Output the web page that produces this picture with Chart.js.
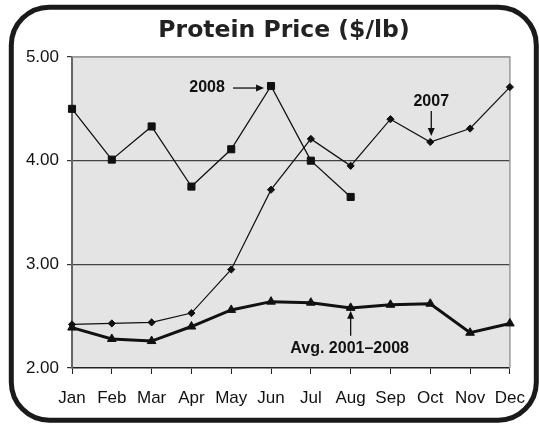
<!DOCTYPE html>
<html>
<head>
<meta charset="utf-8">
<script src="https://cdn.jsdelivr.net/npm/chart.js@4"></script>
<style>
  html, body { margin: 0; padding: 0; background: #fff; }
  #wrap { width: 539px; height: 425px; }
</style>
</head>
<body>
<div id="wrap"><canvas id="proteinChart" width="539" height="425"></canvas></div>
<script>
const months = ["Jan", "Feb", "Mar", "Apr", "May", "Jun", "Jul", "Aug", "Sep", "Oct", "Nov", "Dec"];
const price2008 = [4.50, 4.01, 4.33, 3.75, 4.11, 4.72, 4.00, 3.65, null, null, null, null];
const price2007 = [2.42, 2.43, 2.44, 2.53, 2.95, 3.72, 4.21, 3.95, 4.40, 4.18, 4.31, 4.71];
const avg2001to2008 = [2.39, 2.28, 2.26, 2.40, 2.56, 2.64, 2.63, 2.58, 2.61, 2.62, 2.34, 2.43];
const yTicks = [2, 3, 4, 5];
const chartTitle = "Protein Price ($/lb)";

// callouts: which point they point at, and which way the arrow comes from
const callouts = [
  { text: "2008", dataset: 0, index: 5, dir: "left" },
  { text: "2007", dataset: 1, index: 9, dir: "up" },
  { text: "Avg. 2001\u20132008", dataset: 2, index: 7, dir: "down" },
];

const ink = "#111";

const drawArrow = (ctx, x1, y1, x2, y2) => {
  const ang = Math.atan2(y2 - y1, x2 - x1);
  ctx.beginPath();
  ctx.moveTo(x1, y1);
  ctx.lineTo(x2 - Math.cos(ang) * 5, y2 - Math.sin(ang) * 5);
  ctx.stroke();
  ctx.beginPath();
  ctx.moveTo(x2, y2);
  ctx.lineTo(x2 - Math.cos(ang) * 8 - Math.sin(ang) * 3.5, y2 - Math.sin(ang) * 8 + Math.cos(ang) * 3.5);
  ctx.lineTo(x2 - Math.cos(ang) * 8 + Math.sin(ang) * 3.5, y2 - Math.sin(ang) * 8 - Math.cos(ang) * 3.5);
  ctx.closePath();
  ctx.fill();
};

const frame = {
  id: "frame",
  beforeDraw(chart) {
    // white page, then grey plot background (grid draws over it)
    const { ctx, chartArea: a } = chart;
    ctx.save();
    ctx.fillStyle = "#fff";
    ctx.fillRect(0, 0, chart.width, chart.height);
    ctx.fillStyle = "#e4e4e4";
    ctx.fillRect(a.left, a.top, a.right - a.left, a.bottom - a.top);
    ctx.restore();
  },
  beforeDatasetsDraw(chart) {
    // grey top/right edge of the plot
    const { ctx, chartArea: a } = chart;
    ctx.save();
    ctx.strokeStyle = "#9a9a9a";
    ctx.lineWidth = 1.5;
    ctx.beginPath();
    ctx.moveTo(a.left, a.top);
    ctx.lineTo(a.right, a.top);
    ctx.lineTo(a.right, a.bottom);
    ctx.stroke();
    ctx.restore();
  },
  afterDraw(chart) {
    const { ctx } = chart;
    ctx.save();
    // rounded outer border
    ctx.strokeStyle = "#1a1a1a";
    ctx.lineWidth = 5;
    ctx.beginPath();
    ctx.roundRect(11.3, 7.2, 525, 413, 38);
    ctx.stroke();

    // title
    ctx.fillStyle = "#222";
    ctx.font = "bold 23.5px 'DejaVu Sans', sans-serif";
    ctx.textAlign = "center";
    ctx.textBaseline = "middle";
    ctx.fillText(chartTitle, 284, 31);

    // callouts
    ctx.fillStyle = ink;
    ctx.strokeStyle = ink;
    ctx.lineWidth = 1.3;
    ctx.font = "bold 16px 'Liberation Sans', Arial, sans-serif";
    callouts.forEach((c) => {
      const pt = chart.getDatasetMeta(c.dataset).data[c.index];
      const x = pt.x, y = pt.y;
      if (c.dir === "left") {
        drawArrow(ctx, x - 38, y + 2, x - 7, y + 2);
        ctx.fillText(c.text, x - 64, y + 2);
      } else if (c.dir === "up") {
        drawArrow(ctx, x + 1, y - 31, x + 1, y - 6);
        ctx.fillText(c.text, x + 1, y - 40);
      } else {
        drawArrow(ctx, x, y + 28, x, y + 3);
        ctx.fillText(c.text, x - 1, y + 41);
      }
    });
    ctx.restore();
  },
};

const ctx = document.getElementById("proteinChart").getContext("2d");

new Chart(ctx, {
  type: "line",
  data: {
    labels: months,
    datasets: [
      {
        label: "2008",
        data: price2008,
        borderColor: ink,
        backgroundColor: ink,
        borderWidth: 1.3,
        pointStyle: "rect",
        pointRadius: 5,
        pointBorderWidth: 1,
        spanGaps: false,
      },
      {
        label: "2007",
        data: price2007,
        borderColor: ink,
        backgroundColor: ink,
        borderWidth: 1.2,
        pointStyle: "rectRot",
        pointRadius: 3.6,
        pointBorderWidth: 1,
      },
      {
        label: "Avg. 2001-2008",
        data: avg2001to2008,
        borderColor: ink,
        backgroundColor: ink,
        borderWidth: 3,
        pointStyle: "triangle",
        pointRadius: 5,
        pointBorderWidth: 1,
      },
    ],
  },
  options: {
    responsive: false,
    animation: false,
    layout: { padding: { left: 0, right: 24, top: 57, bottom: 0 } },
    plugins: {
      legend: { display: false },
      tooltip: { enabled: false },
      title: { display: false },
    },
    scales: {
      x: {
        offset: false,
        afterFit: (scale) => { scale.height = 57; },
        grid: { drawOnChartArea: false, tickLength: 6, tickColor: "#222", tickWidth: 1 },
        border: { color: "#222", width: 1.5 },
        ticks: {
          color: ink,
          padding: 14,
          autoSkip: false,
          maxRotation: 0,
          font: { family: "'Liberation Sans', Arial, sans-serif", size: 17 },
        },
      },
      y: {
        min: 2,
        max: 5,
        afterFit: (scale) => { scale.width = 72; },
        afterBuildTicks: (scale) => { scale.ticks = yTicks.map((v) => ({ value: v })); },
        grid: {
          color: (c) => (c.tick && c.tick.value === 5 ? "#9a9a9a" : c.tick && c.tick.value === 2 ? "rgba(0,0,0,0)" : "#444"),
          lineWidth: 1.2,
          tickLength: 5,
          tickColor: "#333",
        },
        border: { color: "#666", width: 2 },
        ticks: {
          color: ink,
          padding: 8,
          callback: (v) => Number(v).toFixed(2),
          font: { family: "'Liberation Sans', Arial, sans-serif", size: 17 },
        },
      },
    },
  },
  plugins: [frame],
});
</script>
</body>
</html>
